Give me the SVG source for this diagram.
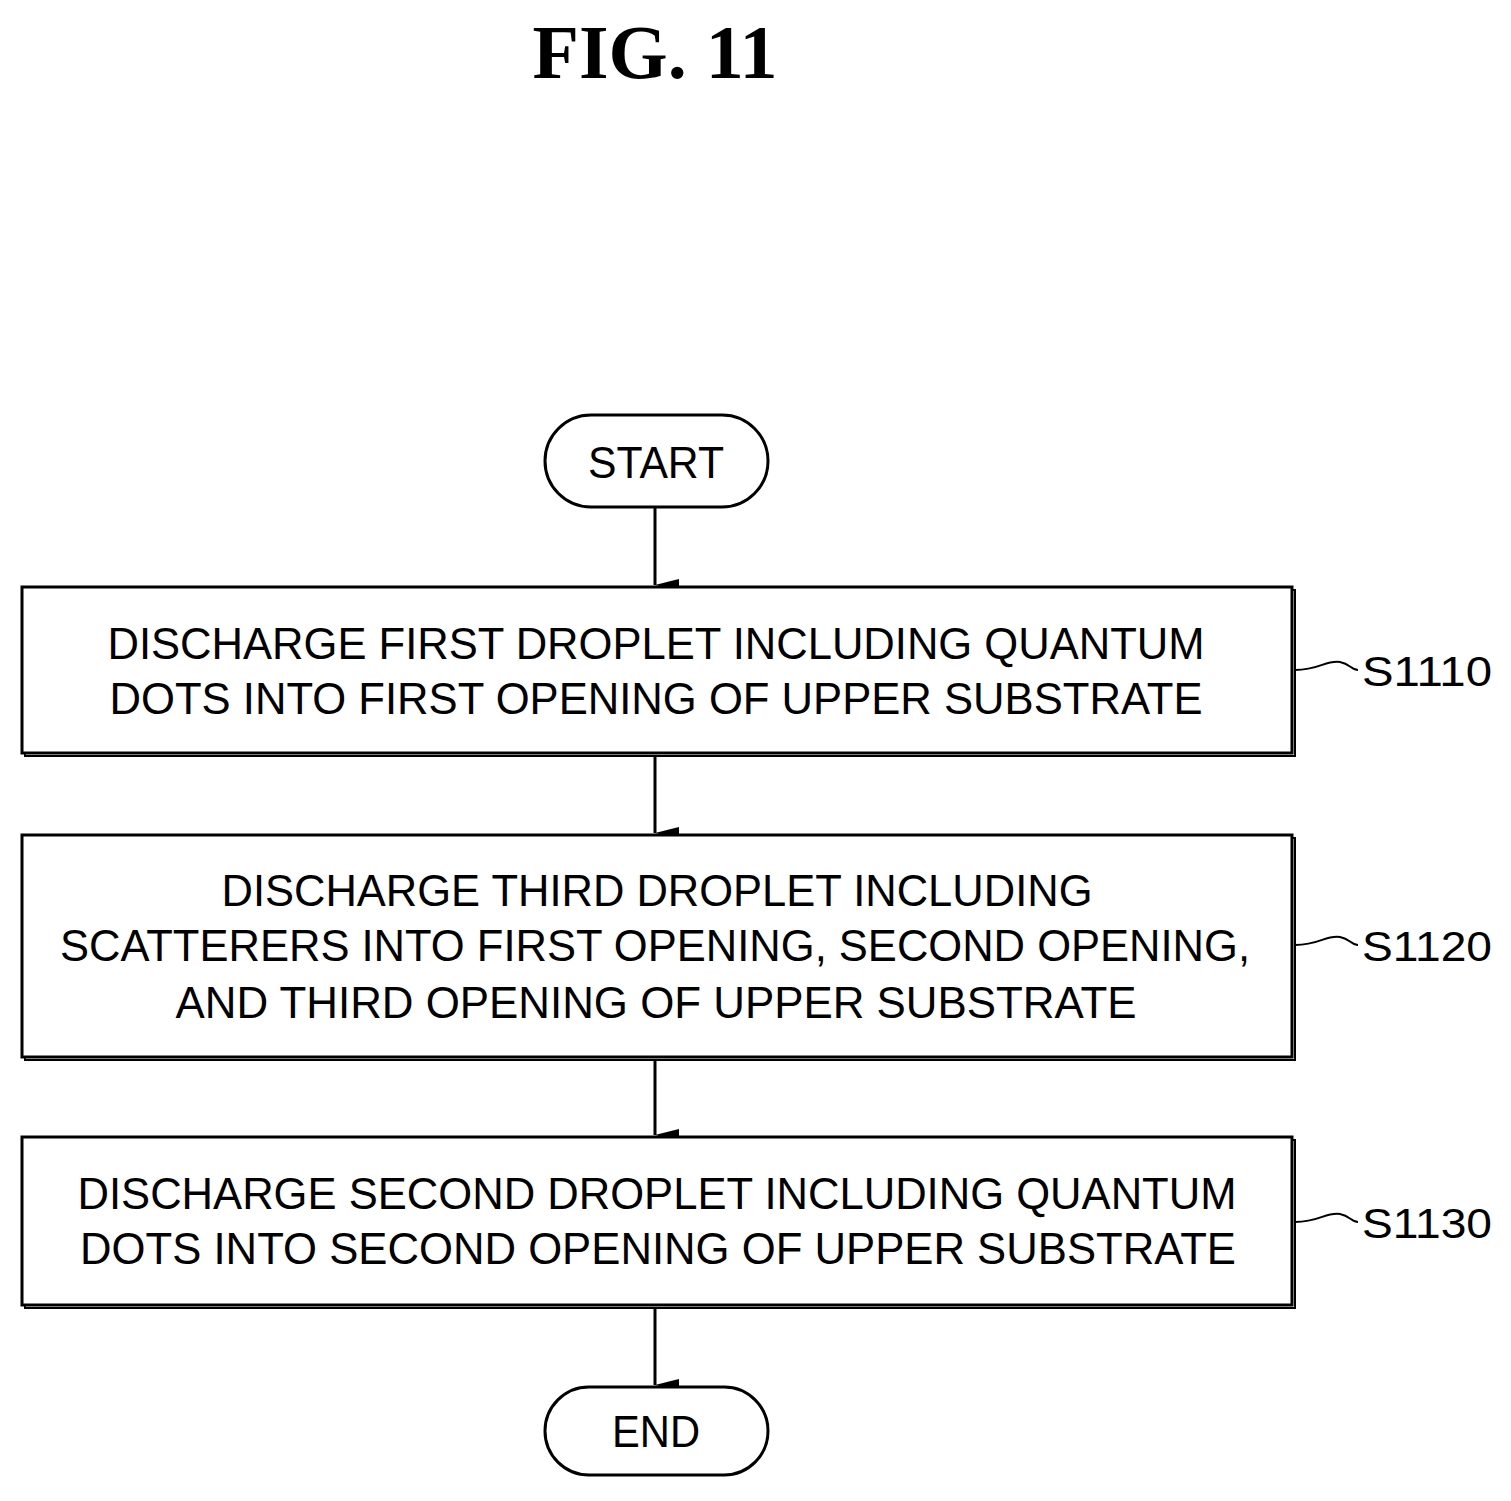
<svg xmlns="http://www.w3.org/2000/svg" width="1511" height="1501" viewBox="0 0 1511 1501">
<defs>
<marker id="ah" markerWidth="12" markerHeight="24" refX="6" refY="24" orient="auto" markerUnits="userSpaceOnUse" viewBox="0 0 12 24"><path d="M0,0 L6,24 L12,0 Z" fill="#000"/></marker>
</defs>
<style>
.b{fill:#fff;stroke:#000;stroke-width:3}
.s{fill:none;stroke:#000;stroke-width:2}
.t{font-family:"Liberation Sans",Arial,sans-serif;font-size:44px;text-anchor:middle}
.l{font-family:"Liberation Sans",Arial,sans-serif;font-size:42px}
.c{fill:none;stroke:#000;stroke-width:3}
</style>
<rect width="1511" height="1501" fill="#fff"/>
<text x="655" y="78" font-family="Liberation Serif,serif" font-weight="bold" font-size="76" text-anchor="middle">FIG.  11</text>
<g id="connectors">
<line class="c" x1="655" y1="507" x2="655" y2="585" marker-end="url(#ah)"/>
<line class="c" x1="655" y1="755" x2="655" y2="833" marker-end="url(#ah)"/>
<line class="c" x1="655" y1="1059" x2="655" y2="1135" marker-end="url(#ah)"/>
<line class="c" x1="655" y1="1307" x2="655" y2="1385" marker-end="url(#ah)"/>
<path class="s" d="M1295,670 C1320,670 1325,660 1340,662 C1350,664 1352,670 1358,670"/>
<path class="s" d="M1295,945 C1320,945 1325,935 1340,937 C1350,939 1352,945 1358,945"/>
<path class="s" d="M1295,1222 C1320,1222 1325,1212 1340,1214 C1350,1216 1352,1222 1358,1222"/>
</g>
<g id="start"><rect class="b" x="545" y="415" width="223" height="92" rx="46"/><text class="t" x="656" y="478" textLength="136" lengthAdjust="spacingAndGlyphs">START</text></g>
<g id="s1110">
<rect class="s" x="25" y="590" width="1270" height="166"/>
<rect class="b" x="22" y="587" width="1270" height="166"/>
<text class="t" x="656" y="659" textLength="1097" lengthAdjust="spacingAndGlyphs">DISCHARGE FIRST DROPLET INCLUDING QUANTUM</text>
<text class="t" x="656" y="714" textLength="1093" lengthAdjust="spacingAndGlyphs">DOTS INTO FIRST OPENING OF UPPER SUBSTRATE</text>
<text class="l" x="1362" y="686" textLength="130" lengthAdjust="spacingAndGlyphs">S1110</text>
</g>
<g id="s1120">
<rect class="s" x="25" y="838" width="1270" height="222"/>
<rect class="b" x="22" y="835" width="1270" height="222"/>
<text class="t" x="657" y="906" textLength="871" lengthAdjust="spacingAndGlyphs">DISCHARGE THIRD DROPLET INCLUDING</text>
<text class="t" x="655" y="961" textLength="1190" lengthAdjust="spacingAndGlyphs">SCATTERERS INTO FIRST OPENING, SECOND OPENING,</text>
<text class="t" x="656" y="1018" textLength="961" lengthAdjust="spacingAndGlyphs">AND THIRD OPENING OF UPPER SUBSTRATE</text>
<text class="l" x="1362" y="961" textLength="130" lengthAdjust="spacingAndGlyphs">S1120</text>
</g>
<g id="s1130">
<rect class="s" x="25" y="1140" width="1270" height="168"/>
<rect class="b" x="22" y="1137" width="1270" height="168"/>
<text class="t" x="657" y="1209" textLength="1159" lengthAdjust="spacingAndGlyphs">DISCHARGE SECOND DROPLET INCLUDING QUANTUM</text>
<text class="t" x="658" y="1264" textLength="1156" lengthAdjust="spacingAndGlyphs">DOTS INTO SECOND OPENING OF UPPER SUBSTRATE</text>
<text class="l" x="1362" y="1238" textLength="130" lengthAdjust="spacingAndGlyphs">S1130</text>
</g>
<g id="end"><rect class="b" x="545" y="1387" width="223" height="88" rx="44"/><text class="t" x="656" y="1447" textLength="88" lengthAdjust="spacingAndGlyphs">END</text></g>
</svg>
